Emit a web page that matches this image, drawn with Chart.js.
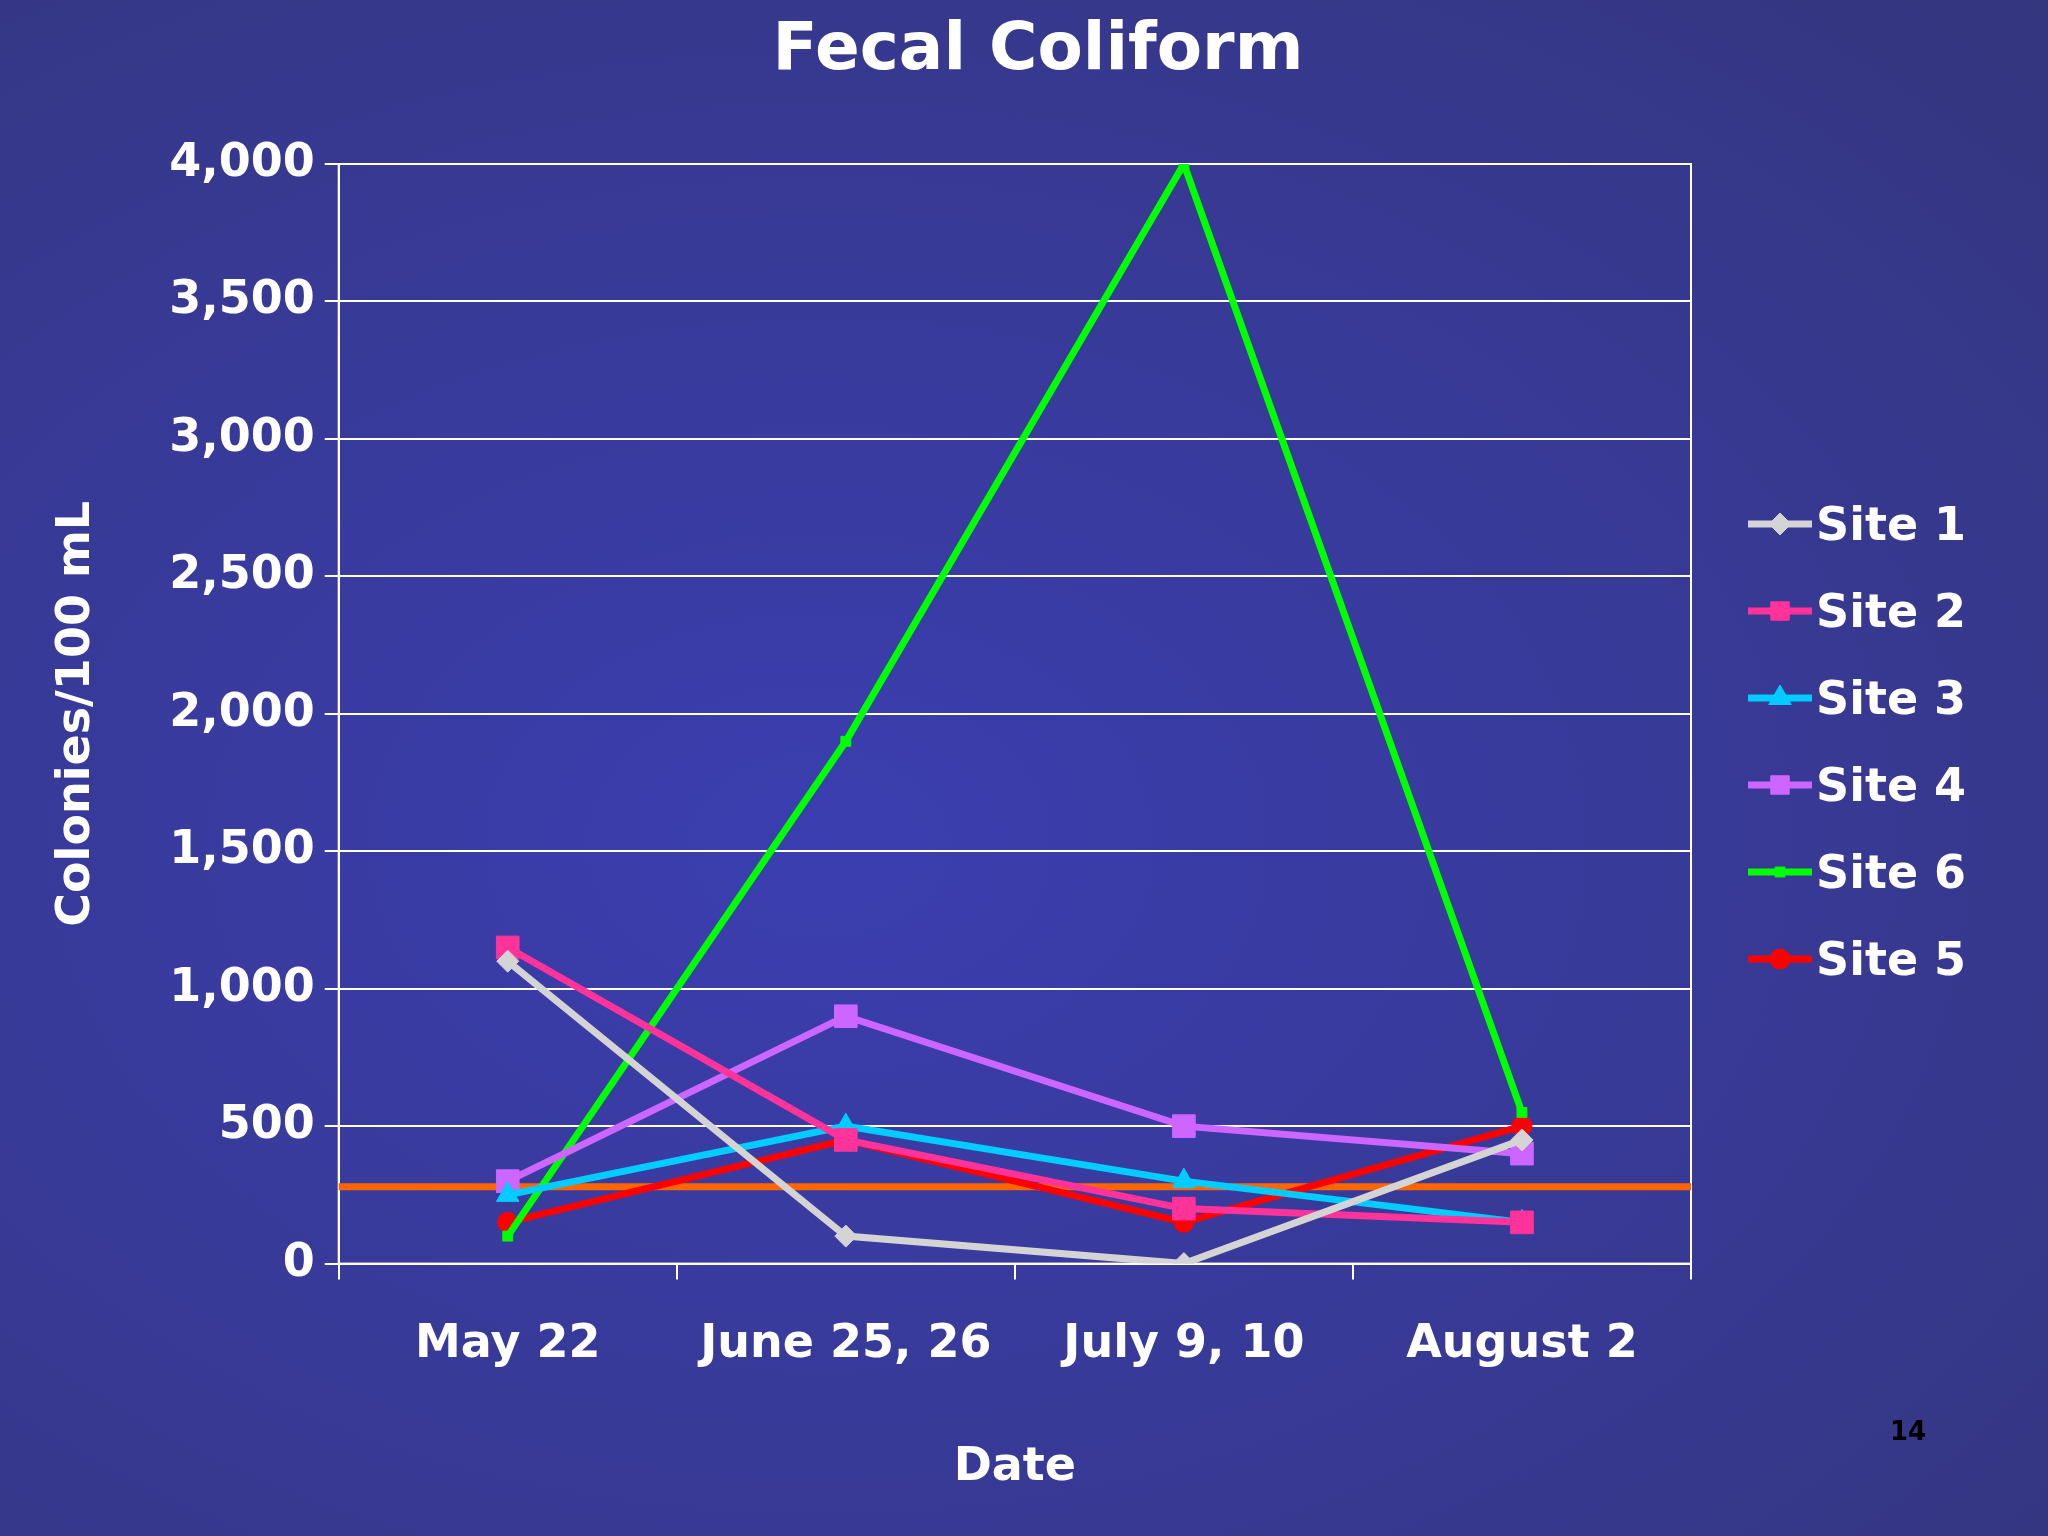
<!DOCTYPE html>
<html>
<head>
<meta charset="utf-8">
<script src="https://cdn.jsdelivr.net/npm/chart.js@4"></script>
<style>
  html, body { margin: 0; padding: 0; }
  body {
    width: 2048px; height: 1536px; overflow: hidden; position: relative;
    background: radial-gradient(ellipse at 40% 55%, #3b3eb0 0%, #383a9a 45%, #34367e 100%);
    font-family: "DejaVu Sans", sans-serif;
  }
  #wrap { position: absolute; left: 0; top: 0; width: 2048px; height: 1536px; }
  #titulo { position: absolute; left: 0; width: 2076px; top: 8px; text-align: center; color: #fff; font-weight: bold; font-size: 66px; }
  #legenda { position: absolute; left: 1748px; top: 480px; color: #fff; font-weight: bold; font-size: 46px; }
  .item-legenda { display: flex; align-items: center; height: 87px; }
  .item-legenda canvas { margin-right: 4px; }
  #pagina { position: absolute; left: 1890px; top: 1416px; font-size: 26px; font-weight: bold; color: #000; }
</style>
</head>
<body>
<div id="wrap"><canvas id="grafico"></canvas></div>
<div id="titulo">Fecal Coliform</div>
<div id="legenda"></div>
<div id="pagina">14</div>
<script>
const datas = ['May 22', 'June 25, 26', 'July 9, 10', 'August 2']
const site1 = [1100, 100, 0, 450]
const site2 = [1150, 450, 200, 150]
const site3 = [250, 500, 300, 150]
const site4 = [300, 900, 500, 400]
const site6 = [100, 1900, 4000, 550]
const site5 = [150, 450, 150, 500]
const limite = [280, 280, 280, 280]

const series = [
  { label: 'Site 1', data: site1, cor: '#d4d4d4', estilo: 'rectRot', raio: 11 },
  { label: 'Site 2', data: site2, cor: '#ff3399', estilo: 'rect', raio: 16 },
  { label: 'Site 3', data: site3, cor: '#00ccff', estilo: 'triangle', raio: 13 },
  { label: 'Site 4', data: site4, cor: '#cc66ff', estilo: 'rect', raio: 16 },
  { label: 'Site 6', data: site6, cor: '#00ff00', estilo: 'rect', raio: 7 },
  { label: 'Site 5', data: site5, cor: '#ff0000', estilo: 'circle', raio: 10 }
]

const datasets = series.map(s => ({
  label: s.label,
  data: s.data,
  borderColor: s.cor,
  backgroundColor: s.cor,
  borderWidth: 7,
  pointStyle: s.estilo,
  pointRadius: s.raio,
  pointBorderWidth: 1,
  tension: 0
}))

// moldura branca em volta da área do gráfico
const moldura = {
  id: 'moldura',
  beforeDatasetsDraw(chart) {
    const { ctx, chartArea: a } = chart
    ctx.save()
    ctx.strokeStyle = '#ffffff'
    ctx.lineWidth = 2
    ctx.strokeRect(a.left, a.top, a.right - a.left, a.bottom - a.top)
    ctx.restore()
  }
}

const branco = '#ffffff'
const fonte = 'DejaVu Sans'

// linha laranja do limite, de borda a borda
const linhaLimite = {
  id: 'linhaLimite',
  beforeDatasetsDraw(chart) {
    const { ctx, chartArea: a, scales } = chart
    const y = scales.y.getPixelForValue(limite[0])
    ctx.save()
    ctx.strokeStyle = '#ff6600'
    ctx.lineWidth = 7
    ctx.beginPath(); ctx.moveTo(a.left, y); ctx.lineTo(a.right, y); ctx.stroke()
    ctx.restore()
  }
}

new Chart(document.getElementById('grafico'), {
  type: 'line',
  data: { labels: datas, datasets },
  plugins: [moldura, linhaLimite],
  options: {
    responsive: true,
    maintainAspectRatio: false,
    animation: false,
    layout: { padding: { left: 45, right: 357, top: 164, bottom: 36 } },
    scales: {
      x: {
        offset: true,
        grid: { display: true, drawOnChartArea: false, offset: true, color: branco, lineWidth: 2, tickLength: 16 },
        border: { color: branco, width: 2 },
        ticks: { color: branco, font: { family: fonte, size: 46, weight: 'bold' }, padding: 38 },
        title: { display: true, text: 'Date', color: branco, font: { family: fonte, size: 46, weight: 'bold' }, padding: { top: 30 } }
      },
      y: {
        min: 0, max: 4000,
        ticks: { stepSize: 500, color: branco, font: { family: fonte, size: 46, weight: 'bold' }, padding: 10,
          callback: v => v.toLocaleString('en-US') },
        grid: { color: branco, lineWidth: 2, tickLength: 14 },
        border: { color: branco, width: 2 },
        title: { display: true, text: 'Colonies/100 mL', color: branco, font: { family: fonte, size: 46, weight: 'bold' }, padding: { bottom: 55 } }
      }
    },
    plugins: {
      legend: { display: false },
      tooltip: { enabled: false }
    }
  }
})

// legenda em HTML com linha + marcador
const divLegenda = document.getElementById('legenda')
series.forEach(s => {
  const item = document.createElement('div')
  item.className = 'item-legenda'
  const c = document.createElement('canvas')
  c.width = 64; c.height = 40
  const g = c.getContext('2d')
  g.strokeStyle = s.cor; g.lineWidth = 7
  g.beginPath(); g.moveTo(0, 20); g.lineTo(64, 20); g.stroke()
  g.fillStyle = s.cor
  g.lineWidth = 1
  Chart.helpers.drawPoint(g, { pointStyle: s.estilo, radius: Math.min(s.raio, 13), borderWidth: 1, rotation: 0 }, 32, 20)
  g.fill()
  item.appendChild(c)
  const txt = document.createElement('span')
  txt.innerText = s.label
  item.appendChild(txt)
  divLegenda.appendChild(item)
})
</script>
</body>
</html>
